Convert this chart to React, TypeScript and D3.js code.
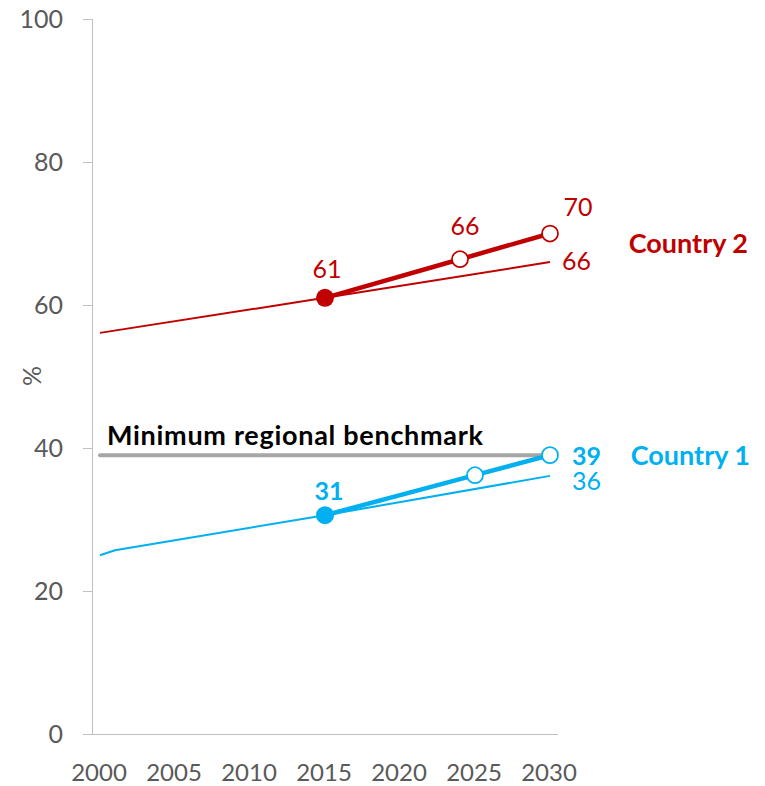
import React, { useEffect, useRef } from "react";
import * as d3 from "d3";

const yTicks = [0, 20, 40, 60, 80, 100];
const xTicks = [2000, 2005, 2010, 2015, 2020, 2025, 2030];

const c2Trend = [
  { year: 2000, value: 56.1 },
  { year: 2015, value: 61.0 },
  { year: 2030, value: 66.0 },
];
const c2Target = [
  { year: 2015, value: 61.0 },
  { year: 2024, value: 66.4 },
  { year: 2030, value: 70.0 },
];
const c1Trend = [
  { year: 2000, value: 25.0 },
  { year: 2001, value: 25.7 },
  { year: 2015, value: 30.6 },
  { year: 2030, value: 36.1 },
];
const c1Target = [
  { year: 2015, value: 30.6 },
  { year: 2025, value: 36.2 },
  { year: 2030, value: 39.0 },
];
const benchmark = [
  { year: 2000, value: 39.0 },
  { year: 2029.4, value: 39.0 },
];

const RED = "#C00000";
const BLUE = "#00B0F0";
const GRAY_TXT = "#595959";
const AXIS = "#BFBFBF";
const FONT = "Lato, 'Open Sans', sans-serif";

export default function App() {
  const ref = useRef<SVGSVGElement>(null);

  useEffect(() => {
    const svg = d3.select(ref.current);
    svg.selectAll("*").remove();

    const x = d3.scaleLinear().domain([2000, 2030]).range([100, 550]);
    const y = d3.scaleLinear().domain([0, 100]).range([734, 19]);
    const line = d3
      .line<{ year: number; value: number }>()
      .x((d) => x(d.year))
      .y((d) => y(d.value));

    // axes
    svg
      .append("line")
      .attr("x1", 92.5)
      .attr("x2", 92.5)
      .attr("y1", y(100))
      .attr("y2", y(0))
      .attr("stroke", AXIS)
      .attr("stroke-width", 1);
    svg
      .append("line")
      .attr("x1", 83)
      .attr("x2", 558)
      .attr("y1", y(0) + 0.5)
      .attr("y2", y(0) + 0.5)
      .attr("stroke", AXIS)
      .attr("stroke-width", 1);

    yTicks.forEach((t) => {
      svg
        .append("line")
        .attr("x1", 83)
        .attr("x2", 92)
        .attr("y1", Math.round(y(t)) + 0.5)
        .attr("y2", Math.round(y(t)) + 0.5)
        .attr("stroke", AXIS);
      svg
        .append("text")
        .attr("x", 63)
        .attr("y", y(t))
        .attr("dy", "0.36em")
        .attr("text-anchor", "end")
        .attr("font-family", FONT)
        .attr("font-size", 25)
        .attr("fill", GRAY_TXT)
        .text(String(t));
    });

    xTicks.forEach((t) => {
      svg
        .append("text")
        .attr("x", x(t) - 1)
        .attr("y", 781)
        .attr("text-anchor", "middle")
        .attr("font-family", FONT)
        .attr("font-size", 24)
        .attr("fill", GRAY_TXT)
        .text(String(t));
    });

    svg
      .append("text")
      .attr("transform", "translate(41,376) rotate(-90)")
      .attr("text-anchor", "middle")
      .attr("font-family", FONT)
      .attr("font-size", 25)
      .attr("fill", GRAY_TXT)
      .text("%");

    // benchmark
    svg
      .append("path")
      .attr("d", line(benchmark))
      .attr("fill", "none")
      .attr("stroke", "#A6A6A6")
      .attr("stroke-width", 4)
      .attr("stroke-linecap", "round");
    svg
      .append("text")
      .attr("x", 107)
      .attr("y", 445)
      .attr("font-family", FONT)
      .attr("font-size", 27)
      .attr("font-weight", 700)
      .attr("fill", "#000")
      .attr("textLength", 376)
      .attr("lengthAdjust", "spacing")
      .text("Minimum regional benchmark");

    const drawSeries = (
      trend: { year: number; value: number }[],
      target: { year: number; value: number }[],
      color: string
    ) => {
      svg
        .append("path")
        .attr("d", line(trend))
        .attr("fill", "none")
        .attr("stroke", color)
        .attr("stroke-width", 2);
      svg
        .append("path")
        .attr("d", line(target))
        .attr("fill", "none")
        .attr("stroke", color)
        .attr("stroke-width", 4.5);
      target.forEach((d, i) => {
        if (i === 0) {
          svg
            .append("circle")
            .attr("cx", x(d.year))
            .attr("cy", y(d.value))
            .attr("r", 9)
            .attr("fill", color);
        } else {
          svg
            .append("circle")
            .attr("cx", x(d.year))
            .attr("cy", y(d.value))
            .attr("r", 8)
            .attr("fill", "#fff")
            .attr("stroke", color)
            .attr("stroke-width", 1.75);
        }
      });
    };

    drawSeries(c2Trend, c2Target, RED);
    drawSeries(c1Trend, c1Target, BLUE);

    const label = (
      txt: string,
      xx: number,
      yy: number,
      color: string,
      anchor: string,
      bold = false,
      size = 25
    ) => {
      svg
        .append("text")
        .attr("x", xx)
        .attr("y", yy)
        .attr("text-anchor", anchor)
        .attr("font-family", FONT)
        .attr("font-size", size)
        .attr("font-weight", bold ? 700 : 400)
        .attr("fill", color)
        .text(txt);
    };

    // Country 2 labels
    label(String(Math.round(c2Target[0].value)), x(2015) + 2, 278, RED, "middle");
    label(String(Math.floor(c2Target[1].value)), x(2024) + 5, 235, RED, "middle");
    label(String(Math.round(c2Target[2].value)), x(2030) + 28, 216, RED, "middle");
    label(String(Math.round(c2Trend[2].value)), 562, 270, RED, "start");
    label("Country 2", 748, 253, RED, "end", true, 27);

    // Country 1 labels
    label(String(Math.round(c1Target[0].value)), x(2015) + 4, 500, BLUE, "middle", true);
    label(String(Math.round(c1Target[2].value)), 572, 465, BLUE, "start", true);
    label(String(Math.round(c1Trend[3].value)), 572, 490, BLUE, "start");
    label("Country 1", 750, 465, BLUE, "end", true, 27);
  }, []);

  return (
    <svg
      ref={ref}
      width={765}
      height={786}
      style={{ position: "absolute", left: 0, top: 0, background: "#fff" }}
    />
  );
}
